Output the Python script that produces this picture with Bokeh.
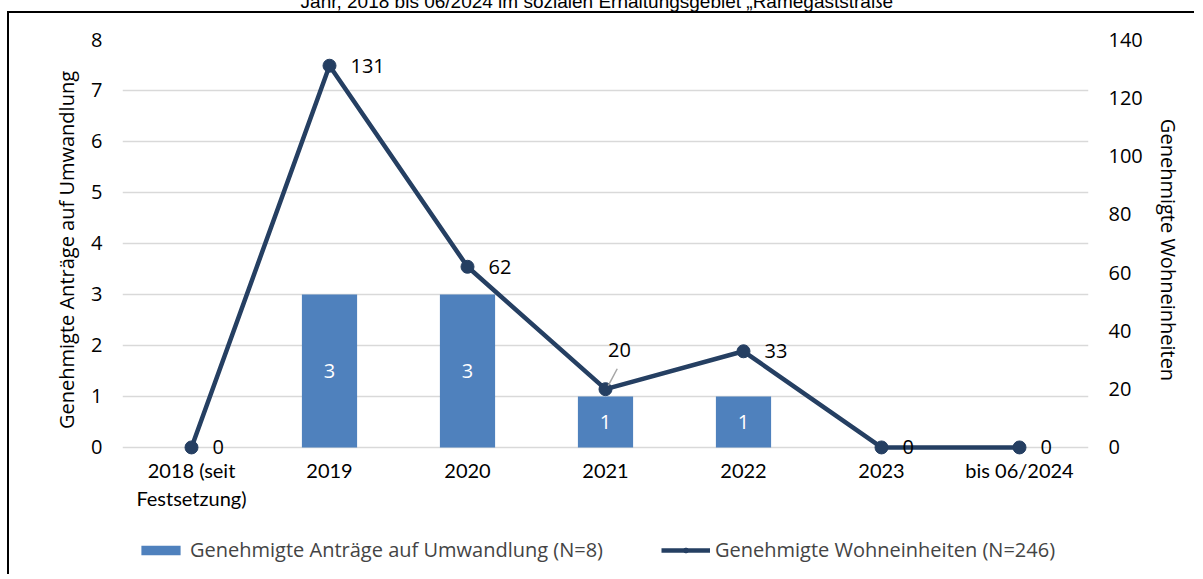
from bokeh.plotting import figure
from bokeh.models import (ColumnDataSource, FactorRange, Range1d, LinearAxis, FixedTicker,
                          Legend, LegendItem, CDSView, IndexFilter, LabelSet, Div)
from bokeh.layouts import column
from bokeh.transform import dodge
from bokeh.core.properties import value
from bokeh.embed import file_html
from bokeh.resources import INLINE

# ---- data ----
categories = ["2018 (seit\nFestsetzung)", "2019", "2020", "2021", "2022", "2023", "bis 06/2024"]
antraege = [0, 3, 3, 1, 1, 0, 0]
wohneinheiten = [0, 131, 62, 20, 33, 0, 0]
left_ticks = [0, 1, 2, 3, 4, 5, 6, 7, 8]
right_ticks = [0, 20, 40, 60, 80, 100, 120, 140]
bar_legend = "Genehmigte Anträge auf Umwandlung (N=8)"
line_legend = "Genehmigte Wohneinheiten (N=246)"
left_title = "Genehmigte Anträge auf Umwandlung"
right_title = "Genehmigte Wohneinheiten"
caption = "Jahr, 2018 bis 06/2024 im sozialen Erhaltungsgebiet „Ramegaststraße“"

FONT = "Open Sans"
FS = "20px"
BAR = "#4F81BD"
NAVY = "#253F62"

# small room below the zero line so that the "0" labels are not cut by the frame
PAD_UNITS = 13 / 50.75
L_MAX, R_MAX = 8, 140

src = ColumnDataSource(dict(
    cat=categories,
    antraege=antraege,
    bar_mid=[v / 2 for v in antraege],
    bar_txt=[str(v) for v in antraege],
    we=wohneinheiten,
))

p = figure(x_range=FactorRange(*categories, range_padding=0),
           y_range=Range1d(-PAD_UNITS, L_MAX),
           frame_width=964, frame_height=419,
           min_border_left=113, min_border_right=108,
           min_border_top=26, min_border_bottom=56,
           output_backend="svg", toolbar_location=None,
           background_fill_color="white", border_fill_color="white")
p.extra_y_ranges = {"right": Range1d(-PAD_UNITS * R_MAX / L_MAX, R_MAX)}
p.outline_line_color = None
p.styles = {"margin-left": "7px", "border-top": "2px solid black",
            "border-left": "2px solid black"}

# bars
bars = p.vbar(x="cat", top="antraege", width=0.4, source=src,
              fill_color=BAR, line_color=None)

# line + markers
ln = p.line(x="cat", y="we", source=src, y_range_name="right",
            line_color=NAVY, line_width=4.5)
mk = p.scatter(x="cat", y="we", source=src, y_range_name="right",
               size=13, fill_color=NAVY, line_color=NAVY)

# bar labels (only non-zero bars)
nz = [i for i, v in enumerate(antraege) if v > 0]
p.text(x="cat", y="bar_mid", text="bar_txt", source=src, view=CDSView(filter=IndexFilter(nz)),
       text_color="white", text_font=value(FONT), text_font_size=FS,
       text_align="center", text_baseline="middle")

# line labels
src_r = ColumnDataSource(dict(
    cat=[c for i, c in enumerate(categories) if i != 3],
    we=[w for i, w in enumerate(wohneinheiten) if i != 3],
    txt=[str(w) for i, w in enumerate(wohneinheiten) if i != 3],
))
src_u = ColumnDataSource(dict(cat=[categories[3]], we=[wohneinheiten[3]],
                              txt=[str(wohneinheiten[3])]))
p.add_layout(LabelSet(x="cat", y="we", text="txt", source=src_r, y_range_name="right",
                      x_offset=21, y_offset=0, text_color="black",
                      text_font=value(FONT), text_font_size=FS,
                      text_align="left", text_baseline="middle"))
p.add_layout(LabelSet(x="cat", y="we", text="txt", source=src_u, y_range_name="right",
                      x_offset=14, y_offset=39, text_color="black",
                      text_font=value(FONT), text_font_size=FS,
                      text_align="center", text_baseline="middle"))
# leader line for the "20" label
p.segment(x0=dodge("cat", 0.02, range=p.x_range), y0=dodge("we", 1.2),
          x1=dodge("cat", 0.085, range=p.x_range), y1=dodge("we", 7.0),
          source=src_u, y_range_name="right",
          line_color="#A6A6A6", line_width=1.5)

# axes
xa = p.xaxis[0]
xa.axis_line_color = None
xa.major_tick_line_color = None
xa.major_tick_out = 0
xa.major_tick_in = 0
xa.minor_tick_line_color = None
xa.major_label_standoff = -3
xa.major_label_text_font = "Lato"
xa.major_label_text_font_size = FS
xa.major_label_text_color = "black"

ya = p.yaxis[0]
ya.ticker = FixedTicker(ticks=left_ticks)
ya.axis_line_color = None
ya.major_tick_line_color = None
ya.major_tick_out = 0
ya.major_tick_in = 0
ya.minor_tick_line_color = None
ya.major_label_standoff = 20
ya.major_label_text_font = FONT
ya.major_label_text_font_size = FS
ya.major_label_text_color = "black"
ya.axis_label = left_title
ya.axis_label_text_font = FONT
ya.axis_label_text_font_size = FS
ya.axis_label_text_font_style = "normal"
ya.axis_label_text_color = "black"
ya.axis_label_standoff = 8

ra = LinearAxis(y_range_name="right", ticker=FixedTicker(ticks=right_ticks))
ra.axis_line_color = None
ra.major_tick_line_color = None
ra.major_tick_out = 0
ra.major_tick_in = 0
ra.minor_tick_line_color = None
ra.major_label_standoff = 20
ra.major_label_text_font = FONT
ra.major_label_text_font_size = FS
ra.major_label_text_color = "black"
ra.axis_label = right_title
ra.axis_label_text_font = FONT
ra.axis_label_text_font_size = FS
ra.axis_label_text_font_style = "normal"
ra.axis_label_text_color = "black"
ra.axis_label_standoff = 9
p.add_layout(ra, "right")

p.xgrid.grid_line_color = None
p.ygrid.grid_line_color = "#D9D9D9"
p.ygrid.grid_line_width = 1.5

# ---- legend strip below the chart (same series, drawn out of view; only its legend shows)
lf = figure(x_range=p.x_range, y_range=Range1d(1000, 1001),
            width=1185, height=60, min_border=0,
            x_axis_location=None, y_axis_location=None,
            output_backend="svg", toolbar_location=None,
            background_fill_color="white", border_fill_color="white")
lf.outline_line_color = None
lf.grid.visible = False
lf.styles = {"margin-left": "7px", "border-left": "2px solid black"}
lb = lf.vbar(x="cat", top="antraege", width=0.4, source=src,
             fill_color=BAR, line_color=None)
ll = lf.line(x="cat", y="we", source=src, line_color=NAVY, line_width=4.5)
lm = lf.scatter(x="cat", y="we", source=src, size=13, fill_color=NAVY, line_color=NAVY)

legend = Legend(items=[LegendItem(label=bar_legend, renderers=[lb]),
                       LegendItem(label=line_legend, renderers=[ll, lm])],
                orientation="horizontal", location=(14, 11),
                glyph_width=49, glyph_height=12, spacing=58, label_standoff=5,
                label_text_font=FONT, label_text_font_size=FS,
                border_line_color=None, background_fill_alpha=0,
                margin=0, padding=0)
lf.add_layout(legend, "center")

# caption line of the document, cut by the top edge of the window
div = Div(text=caption, width=1190, height=22,
          styles={"margin-top": "-16px", "position": "relative", "top": "7px",
                  "font-family": "Liberation Sans",
                  "font-size": "19px", "line-height": "22px", "text-align": "center",
                  "color": "black", "white-space": "nowrap", "overflow": "hidden"})

layout = column(div, p, lf, spacing=0)

open("out.html", "w").write(file_html(layout, INLINE))
